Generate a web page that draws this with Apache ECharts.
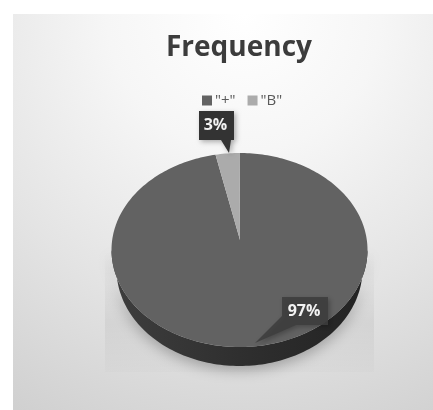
<!DOCTYPE html>
<html><head><meta charset="utf-8">
<style>html,body{margin:0;padding:0;background:#fff}#c{width:433px;height:410px}</style>
<script src="https://cdn.jsdelivr.net/npm/echarts@6/dist/echarts.min.js"></script>
</head><body><div id="c"></div>
<script>
var categories = ['"+"', '"B"'];
var values = [97, 3];
var sliceColors = ['#626262', '#ababab'];

var C = {cx: 239.5, cy: 250, rx: 128, ry: 97, depth: 19, wallRx: 123, apexX: 240, apexY: 240};
var calloutBoxes = [
  {x: 282, y: 297, w: 46, h: 28, tipX: 255, tipY: 343, baseA: [282, 316], baseB: [296, 325], fill: 'rgba(62,62,62,0.88)'},
  {x: 199, y: 111, w: 35, h: 29, tipX: 229, tipY: 153, baseA: [221, 140], baseB: [231, 140], fill: '#333333'}
];
var total = values.reduce(function (a, b) { return a + b; }, 0);

function rim(t) {
  return [C.cx + C.rx * Math.sin(t), C.cy - C.ry * Math.cos(t)];
}
function lowerRim(t) {
  return [C.cx + C.wallRx * Math.sin(t), C.cy + C.depth - C.ry * Math.cos(t)];
}
function fan(a0, a1) {
  var pts = [[C.apexX, C.apexY]], n = Math.max(4, Math.ceil((a1 - a0) / 0.02));
  for (var i = 0; i <= n; i++) pts.push(rim(a0 + (a1 - a0) * i / n));
  return pts;
}
function wall() {
  var pts = [], i;
  for (i = 0; i <= 120; i++) pts.push(lowerRim(Math.PI / 2 + Math.PI * i / 120));
  for (i = 0; i <= 120; i++) pts.push(rim(Math.PI * 1.5 - Math.PI * i / 120));
  return pts;
}
function sliceSeries(idx) {
  return {
    type: 'custom', name: categories[idx], coordinateSystem: 'none', silent: true,
    itemStyle: {color: sliceColors[idx]}, z: 3 + idx,
    data: [[values[idx]]],
    renderItem: function (params, api) {
      var before = 0;
      for (var k = 0; k < idx; k++) before += values[k];
      var a0 = before / total * Math.PI * 2;
      var a1 = a0 + api.value(0) / total * Math.PI * 2;
      var kids = [];
      if (idx === 0) {
        kids.push({type: 'polygon', shape: {points: wall()}, style: {
          fill: {type: 'linear', x: 0, y: 0, x2: 1, y2: 0, colorStops: [
            {offset: 0, color: '#3e3e3e'}, {offset: 0.5, color: '#2f2f2f'}, {offset: 1, color: '#232323'}]},
          shadowBlur: 14, shadowColor: 'rgba(0,0,0,0.28)', shadowOffsetY: 4}});
      }
      kids.push({type: 'polygon', shape: {points: fan(a0, a1)}, style: {fill: api.visual('color')}});
      var b = calloutBoxes[idx];
      kids.push({type: 'polygon', shape: {points: [[b.x, b.y], [b.x + b.w, b.y], [b.x + b.w, b.y + b.h],
        b.baseB, [b.tipX, b.tipY], b.baseA, [b.x, b.y + b.h]]},
        style: {fill: b.fill, shadowBlur: 5, shadowColor: 'rgba(0,0,0,0.3)', shadowOffsetX: 2, shadowOffsetY: 2}});
      kids.push({type: 'text', style: {
        text: Math.round(api.value(0) / total * 100) + '%', x: b.x + b.w / 2 - 1, y: b.y + b.h / 2,
        align: 'center', verticalAlign: 'middle', fill: '#f2f2f2',
        font: '700 16px "Open Sans", sans-serif'}});
      return {type: 'group', children: kids};
    }
  };
}

var chart = echarts.init(document.getElementById('c'), null, {renderer: 'canvas'});
chart.setOption({
  animation: false,
  backgroundColor: '#ffffff',
  title: {text: 'Frequency', left: 234, top: 29, textAlign: 'center',
    textStyle: {fontFamily: 'Open Sans', fontWeight: 700, fontSize: 28, color: '#3c3c3c'}},
  legend: {data: categories, left: 197, top: 88, icon: 'rect', itemWidth: 10, itemHeight: 10, itemGap: 12,
    textStyle: {fontFamily: 'Open Sans', fontSize: 15, color: '#5a5a5a', padding: [0, 0, 0, -2]}},
  graphic: [
    {type: 'rect', z: 0, silent: true, shape: {x: 13, y: 14, width: 420, height: 396}, style: {
      fill: {type: 'radial', x: 0.55, y: 0.0, r: 1.15, colorStops: [
        {offset: 0, color: '#ffffff'}, {offset: 0.3, color: '#f6f6f6'}, {offset: 0.65, color: '#e4e4e4'}, {offset: 1, color: '#d0d0d0'}]}}},
    {type: 'rect', z: 1, silent: true, shape: {x: 105, y: 250, width: 269, height: 122}, style: {
      fill: {type: 'linear', x: 0, y: 0, x2: 0, y2: 1, colorStops: [
        {offset: 0, color: 'rgba(0,0,0,0)'}, {offset: 0.6, color: 'rgba(0,0,0,0.05)'}, {offset: 1, color: 'rgba(0,0,0,0.012)'}]}}}
  ],
  series: categories.map(function (_, i) { return sliceSeries(i); })
});
</script></body></html>
